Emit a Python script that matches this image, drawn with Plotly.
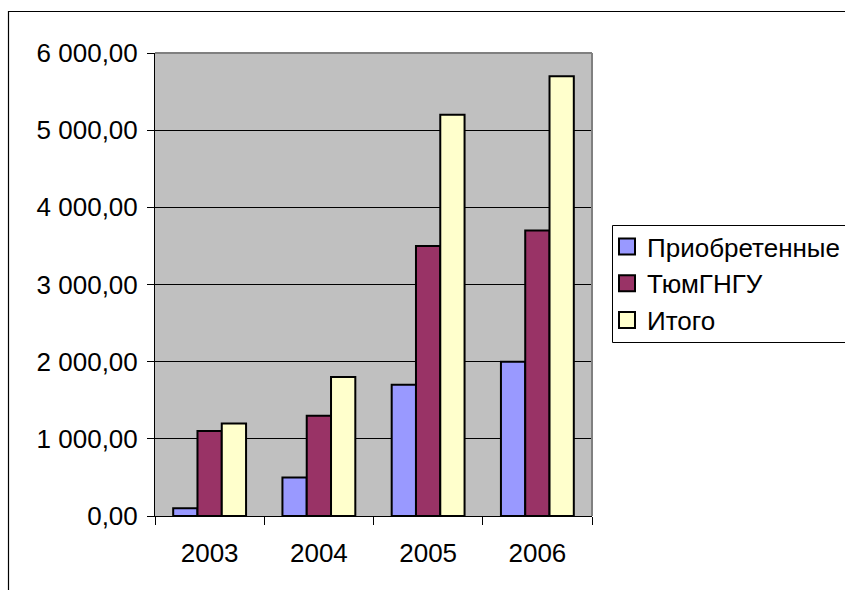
import plotly.graph_objects as go

years = ["2003", "2004", "2005", "2006"]
names = ["Приобретенные", "ТюмГНГУ", "Итого"]
acquired = [100, 500, 1700, 2000]
tyumgngu = [1100, 1300, 3500, 3700]
total = [1200, 1800, 5200, 5700]
colors = ["#9999FF", "#993366", "#FFFFCC"]
y_ticks = [0, 1000, 2000, 3000, 4000, 5000, 6000]

W, H = 845, 590
L, R, T, B = 155, 592, 53, 516

fig = go.Figure()
for nm, vals, col in zip(names, [acquired, tyumgngu, total], colors):
    fig.add_trace(go.Bar(x=years, y=vals, name=nm, showlegend=False,
                         marker=dict(color=col, line=dict(color="black", width=2))))
# legend entries with larger square keys
for nm, col in zip(names, colors):
    fig.add_trace(go.Scatter(x=[None], y=[None], mode="markers", name=nm,
                             marker=dict(symbol="square", size=16, color=col,
                                         line=dict(color="black", width=2))))

def px_x(p):
    return (p - L) / (R - L)

def px_y(p):
    return (B - p) / (B - T)

shapes = [
    dict(type="line", xref="paper", yref="paper", x0=0, x1=1, y0=1, y1=1,
         line=dict(color="#808080", width=2), layer="above"),
    dict(type="line", xref="paper", yref="paper", x0=1, x1=1, y0=0, y1=1,
         line=dict(color="#808080", width=2), layer="above"),
    # outer chart border
    dict(type="rect", xref="paper", yref="paper", x0=px_x(8.5), x1=px_x(900),
         y0=px_y(650), y1=px_y(11.5), line=dict(color="black", width=1.2),
         fillcolor="rgba(0,0,0,0)", layer="below"),
    # legend frame
    dict(type="rect", xref="paper", yref="paper", x0=px_x(612.5), x1=px_x(900),
         y0=px_y(342.5), y1=px_y(225.5), line=dict(color="black", width=1),
         fillcolor="white", layer="below"),
]

fig.update_layout(
    width=W, height=H,
    margin=dict(l=L, r=W - R, t=T, b=H - B, pad=0, autoexpand=False),
    paper_bgcolor="white", plot_bgcolor="#C0C0C0",
    font=dict(family="Liberation Sans, Arial, sans-serif", size=26, color="black"),
    separators=", ",
    barmode="group", bargap=0.333, bargroupgap=0,
    showlegend=True,
    legend=dict(x=px_x(607), y=px_y(223), xanchor="left", yanchor="top",
                borderwidth=0, bgcolor="rgba(0,0,0,0)",
                font=dict(size=26), tracegroupgap=0, itemsizing="trace"),
    shapes=shapes,
    xaxis=dict(showline=True, linecolor="black", linewidth=1, ticks="outside",
               tickson="boundaries", ticklen=8, tickcolor="black",
               showgrid=False, ticklabelstandoff=14, automargin=False),
    yaxis=dict(range=[0, 6000], tickvals=y_ticks, tickformat=",.2f",
               showline=True, linecolor="black", linewidth=1, ticks="outside",
               ticklen=7, tickcolor="black", showgrid=True, gridcolor="black",
               gridwidth=1, zeroline=False, ticklabelstandoff=4, automargin=False),
)

fig.write_html("out.html", config={"displayModeBar": False},
               post_script="document.body.style.margin='0';")
